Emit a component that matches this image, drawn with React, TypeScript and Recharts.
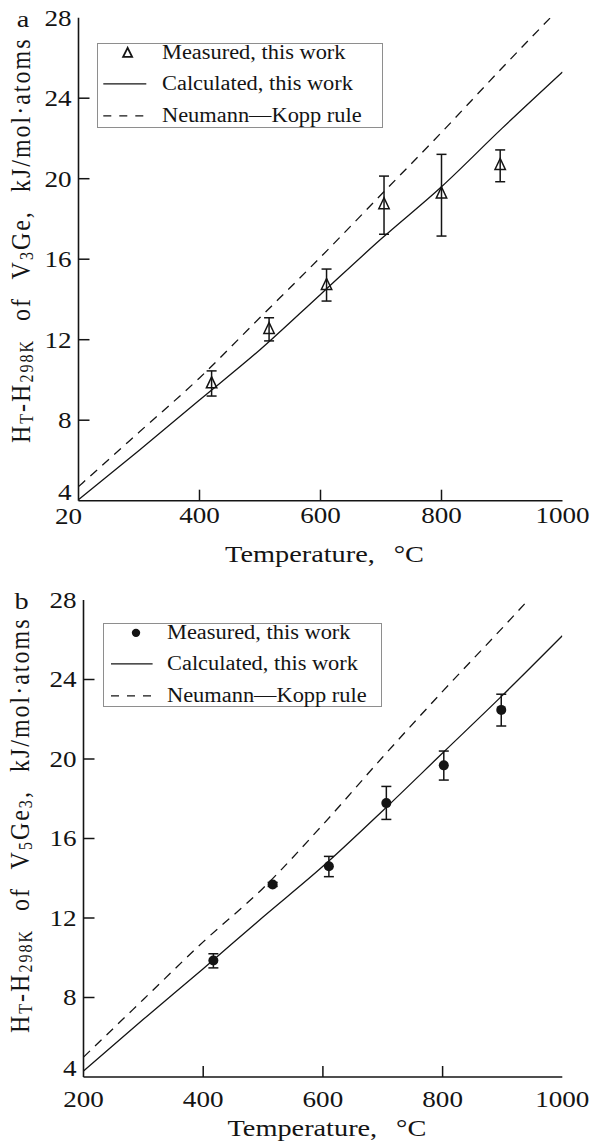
import React from "react";
import {
    ComposedChart,
    Line,
    Scatter,
    XAxis,
    YAxis,
    ErrorBar,
} from "recharts";

const FONT = '"Liberation Serif", "Times New Roman", serif';
const INK = "#141414";
const SX = 1.18; // the source figure is stretched a little horizontally

// ---- panel a: V3Ge ----
const measTempA = [420, 515, 610, 705, 800, 897];
const measA = [9.83, 12.53, 14.72, 18.73, 19.27, 20.68];
const errLowA = [0.63, 0.59, 0.8, 1.49, 2.12, 0.83];
const errHighA = [0.62, 0.56, 0.79, 1.4, 1.94, 0.75];
const calcTempA = [200, 300, 400, 500, 600, 700, 800, 900, 1000];
const calcA = [4.05, 6.5, 9.0, 11.5, 14.25, 17.0, 19.6, 22.5, 25.3];
const nkTempA = [200, 300, 400, 500, 600, 700, 800, 900, 980];
const nkA = [4.7, 7.4, 10.1, 13.1, 16.1, 19.2, 22.3, 25.5, 28.0];

// ---- panel b: V5Ge3 ----
const measTempB = [417, 516, 610, 706, 802, 898];
const measB = [9.86, 13.69, 14.6, 17.78, 19.68, 22.47];
const errLowB = [0.37, 0.1, 0.52, 0.82, 0.74, 0.81];
const errHighB = [0.34, 0.1, 0.5, 0.84, 0.72, 0.79];
const calcTempB = [200, 300, 400, 500, 600, 700, 800, 900, 1000];
const calcB = [4.3, 6.9, 9.45, 12.05, 14.6, 17.4, 20.3, 23.2, 26.2];
const nkTempB = [200, 300, 400, 500, 600, 700, 800, 900, 943];
const nkB = [5.0, 7.9, 10.8, 13.5, 16.7, 20.1, 23.4, 26.6, 28.0];

// ---- axes ----
const xTicks = [200, 400, 600, 800, 1000];
const xLabelsA = ["20", "400", "600", "800", "1000"];
const xLabelsB = ["200", "400", "600", "800", "1000"];
const yTicks = [4, 8, 12, 16, 20, 24, 28];

const legendLabels = ["Measured, this work", "Calculated, this work", "Neumann\u2014Kopp rule"];

const pairs = (xs: number[], ys: number[]) => xs.map((T, i) => ({ T, H: ys[i] }));
const withErr = (xs: number[], ys: number[], lo: number[], hi: number[]) =>
    xs.map((T, i) => ({ T, H: ys[i], err: [lo[i], hi[i]] }));

function StretchText(props: {
    x: number;
    y: number;
    anchor?: "start" | "middle" | "end";
    size?: number;
    wordSpacing?: number;
    children: React.ReactNode;
}) {
    const { x, y, anchor = "middle", size = 23, wordSpacing = 0, children } = props;
    return (
        <text
            transform={`translate(${x},${y}) scale(${SX},1)`}
            textAnchor={anchor}
            fontFamily={FONT}
            fontSize={size}
            fill={INK}
            style={{ wordSpacing }}
        >
            {children}
        </text>
    );
}

const bottomTick = (labels: string[], labelDy: number) => (p: any) => {
    const { x, y, payload, index } = p;
    const v = payload.value;
    const text = labels[index] ?? String(v);
    const short = text === "20";
    return (
        <g>
            {v > 200 && v < 1000 && (
                <line x1={x} y1={y} x2={x} y2={y - 11} stroke={INK} strokeWidth={1.5} />
            )}
            <StretchText x={short ? x - 10 : x} y={y + labelDy + (short ? 1.5 : 0)}>
                {text}
            </StretchText>
        </g>
    );
};

const topTick = (p: any) => {
    const { x, y, payload } = p;
    const v = payload.value;
    if (v <= 200 || v >= 1000) return <g />;
    return <line x1={x} y1={y} x2={x} y2={y + 11} stroke={INK} strokeWidth={1.5} />;
};

const leftTick = (p: any) => {
    const { x, y, payload } = p;
    const v = payload.value;
    const ty = v === 4 ? y - 1 : y + 7.8;
    return (
        <g>
            {v > 4 && v < 28 && (
                <line x1={x} y1={y} x2={x + 11} y2={y} stroke={INK} strokeWidth={1.5} />
            )}
            <StretchText x={x - 7} y={ty} anchor="end">
                {v}
            </StretchText>
        </g>
    );
};

const rightTick = (p: any) => {
    const { x, y, payload } = p;
    const v = payload.value;
    if (v <= 4 || v >= 28) return <g />;
    return <line x1={x} y1={y} x2={x - 11} y2={y} stroke={INK} strokeWidth={1.5} />;
};

const triangle = (p: any) => {
    const { cx, cy } = p;
    if (cx == null || cy == null) return <g />;
    return (
        <polygon
            points={`${cx},${cy - 6.5} ${cx - 5.2},${cy + 4.5} ${cx + 5.2},${cy + 4.5}`}
            fill="none"
            stroke={INK}
            strokeWidth={1.5}
        />
    );
};

const dot = (p: any) => {
    const { cx, cy } = p;
    if (cx == null || cy == null) return <g />;
    return <circle cx={cx} cy={cy} r={5} fill={INK} />;
};

function LegendBox(props: {
    left: number;
    top: number;
    width: number;
    height: number;
    textX: number;
    lineX1: number;
    lineX2: number;
    markX: number;
    filled: boolean;
}) {
    const { left, top, width, height, textX, lineX1, lineX2, markX, filled } = props;
    const rowH = 31.5;
    const mid = 15.85;
    return (
        <div
            style={{
                position: "absolute",
                left,
                top,
                width,
                height,
                boxSizing: "border-box",
                border: "1.5px solid #8e8e8e",
                background: "#fff",
                fontFamily: FONT,
                fontSize: 20,
                color: INK,
            }}
        >
            {legendLabels.map((label, i) => (
                <div
                    key={label}
                    style={{
                        position: "absolute",
                        left: -1.5,
                        top: 10.6 + i * rowH - mid - 1.5,
                        height: rowH,
                        lineHeight: `${rowH}px`,
                        width,
                    }}
                >
                    <svg width={textX} height={rowH} style={{ position: "absolute", left: 0, top: 0 }}>
                        {i === 0 &&
                            (filled ? (
                                <circle cx={markX} cy={mid} r={4.2} fill={INK} />
                            ) : (
                                <polygon
                                    points={`${markX},${mid - 5} ${markX - 4.5},${mid + 4} ${markX + 4.5},${mid + 4}`}
                                    fill="none"
                                    stroke={INK}
                                    strokeWidth={1.8}
                                />
                            ))}
                        {i === 1 && <line x1={lineX1} y1={mid} x2={lineX2} y2={mid} stroke={INK} strokeWidth={1.3} />}
                        {i === 2 && (
                            <line x1={lineX1} y1={mid} x2={lineX2} y2={mid} stroke={INK} strokeWidth={1.3} strokeDasharray="8 8" />
                        )}
                    </svg>
                    <span
                        style={{
                            position: "absolute",
                            left: textX,
                            top: 0,
                            whiteSpace: "nowrap",
                            display: "inline-block",
                            transform: "scaleX(1.12)",
                            transformOrigin: "left center",
                        }}
                    >
                        {label}
                    </span>
                </div>
            ))}
        </div>
    );
}

function YTitle(props: { x: number; y: number; letter: string; letterX: number; letterY: number; formula: React.ReactNode }) {
    const { x, y, letter, letterX, letterY, formula } = props;
    return (
        <g>
            <text
                transform={`translate(${x},${y}) scale(1.15,1) rotate(-90)`}
                textAnchor="start"
                fontFamily={FONT}
                fontSize={24}
                fill={INK}
                letterSpacing={2}
                style={{ wordSpacing: 10 }}
            >
                H
                <tspan fontSize={16} dy={3}>T</tspan>
                <tspan dy={-3}>-H</tspan>
                <tspan fontSize={16} dy={3}>298K</tspan>
                <tspan dy={-3}>{" of V"}</tspan>
                {formula}
                <tspan>{" kJ/mol\u00b7atoms"}</tspan>
            </text>
            <StretchText x={letterX} y={letterY} size={24}>
                {letter}
            </StretchText>
        </g>
    );
}

function Panel(props: {
    top: number;
    height: number;
    margin: { top: number; right: number; bottom: number; left: number };
    xHeight: number;
    xLabels: string[];
    xLabelDy: number;
    titleY: number;
    meas: any[];
    calc: any[];
    nk: any[];
    filled: boolean;
    legend: { left: number; top: number; width: number; height: number; textX: number; lineX1: number; lineX2: number; markX: number };
    yTitle: { x: number; y: number; letter: string; letterX: number; letterY: number; formula: React.ReactNode };
}) {
    const { top, height, margin, xHeight, xLabels, xLabelDy, titleY, meas, calc, nk, filled, legend, yTitle } = props;
    const plotLeft = margin.left + 60;
    const plotRight = 590 - margin.right;
    const axisLine = { stroke: INK, strokeWidth: 1.6 };
    return (
        <div style={{ position: "absolute", left: 0, top, width: 590, height }}>
            <ComposedChart width={590} height={height} margin={margin}>
                <XAxis
                    xAxisId="b"
                    dataKey="T"
                    type="number"
                    domain={[200, 1000]}
                    ticks={xTicks}
                    interval={0}
                    allowDataOverflow
                    height={xHeight}
                    tickSize={0}
                    tickMargin={0}
                    tickLine={false}
                    axisLine={axisLine}
                    tick={bottomTick(xLabels, xLabelDy)}
                    label={{
                        content: () => (
                            <StretchText x={(plotLeft + plotRight) / 2 + 4} y={titleY} size={24} wordSpacing={10}>
                                Temperature, °C
                            </StretchText>
                        ),
                    }}
                />
                <XAxis
                    xAxisId="t"
                    orientation="top"
                    dataKey="T"
                    type="number"
                    domain={[200, 1000]}
                    ticks={xTicks}
                    interval={0}
                    allowDataOverflow
                    height={0}
                    tickSize={0}
                    tickMargin={0}
                    tickLine={false}
                    axisLine={axisLine}
                    tick={topTick}
                />
                <YAxis
                    yAxisId="l"
                    type="number"
                    domain={[4, 28]}
                    ticks={yTicks}
                    interval={0}
                    allowDataOverflow
                    width={60}
                    tickSize={0}
                    tickMargin={0}
                    tickLine={false}
                    axisLine={axisLine}
                    tick={leftTick}
                    label={{ content: () => <YTitle {...yTitle} /> }}
                />
                <YAxis
                    yAxisId="r"
                    orientation="right"
                    type="number"
                    domain={[4, 28]}
                    ticks={yTicks}
                    interval={0}
                    allowDataOverflow
                    width={0}
                    tickSize={0}
                    tickMargin={0}
                    tickLine={false}
                    axisLine={axisLine}
                    tick={rightTick}
                />
                <Line
                    xAxisId="b"
                    yAxisId="l"
                    data={calc}
                    dataKey="H"
                    type="monotone"
                    stroke={INK}
                    strokeWidth={1.3}
                    dot={false}
                    isAnimationActive={false}
                />
                <Line
                    xAxisId="t"
                    yAxisId="r"
                    data={nk}
                    dataKey="H"
                    type="monotone"
                    stroke={INK}
                    strokeWidth={1.3}
                    strokeDasharray="9 7"
                    dot={false}
                    isAnimationActive={false}
                />
                <Scatter
                    xAxisId="b"
                    yAxisId="l"
                    data={meas}
                    dataKey="H"
                    shape={filled ? dot : triangle}
                    isAnimationActive={false}
                >
                    <ErrorBar dataKey="err" direction="y" width={5} stroke={INK} strokeWidth={1.5} />
                </Scatter>
            </ComposedChart>
            <LegendBox {...legend} filled={filled} />
        </div>
    );
}

export default function App() {
    return (
        <div style={{ position: "absolute", left: 0, top: 0, width: 590, height: 1144, background: "#fff" }}>
            <Panel
                top={0}
                height={580}
                margin={{ top: 17.7, right: 27.5, bottom: 0, left: 18.5 }}
                xHeight={79.3}
                xLabels={xLabelsA}
                xLabelDy={22}
                titleY={561.7}
                meas={withErr(measTempA, measA, errLowA, errHighA)}
                calc={pairs(calcTempA, calcA)}
                nk={pairs(nkTempA, nkA)}
                filled={false}
                legend={{ left: 96.7, top: 42.7, width: 286, height: 85.6, textX: 66, lineX1: 7.3, lineX2: 50.3, markX: 31.6 }}
                yTitle={{
                    x: 30,
                    y: 443,
                    letter: "a",
                    letterX: 23,
                    letterY: 26.7,
                    formula: (
                        <>
                            <tspan fontSize={16} dy={3}>3</tspan>
                            <tspan dy={-3}>Ge,</tspan>
                        </>
                    ),
                }}
            />
            <Panel
                top={580}
                height={564}
                margin={{ top: 20, right: 27.7, bottom: 0, left: 23.5 }}
                xHeight={67}
                xLabels={xLabelsB}
                xLabelDy={30}
                titleY={556}
                meas={withErr(measTempB, measB, errLowB, errHighB)}
                calc={pairs(calcTempB, calcB)}
                nk={pairs(nkTempB, nkB)}
                filled={true}
                legend={{ left: 102.7, top: 42.7, width: 279, height: 84.6, textX: 65, lineX1: 9, lineX2: 50.6, markX: 34 }}
                yTitle={{
                    x: 29,
                    y: 453,
                    letter: "b",
                    letterX: 21.5,
                    letterY: 29,
                    formula: (
                        <>
                            <tspan fontSize={16} dy={3}>5</tspan>
                            <tspan dy={-3}>Ge</tspan>
                            <tspan fontSize={16} dy={3}>3</tspan>
                            <tspan dy={-3}>,</tspan>
                        </>
                    ),
                }}
            />
        </div>
    );
}
